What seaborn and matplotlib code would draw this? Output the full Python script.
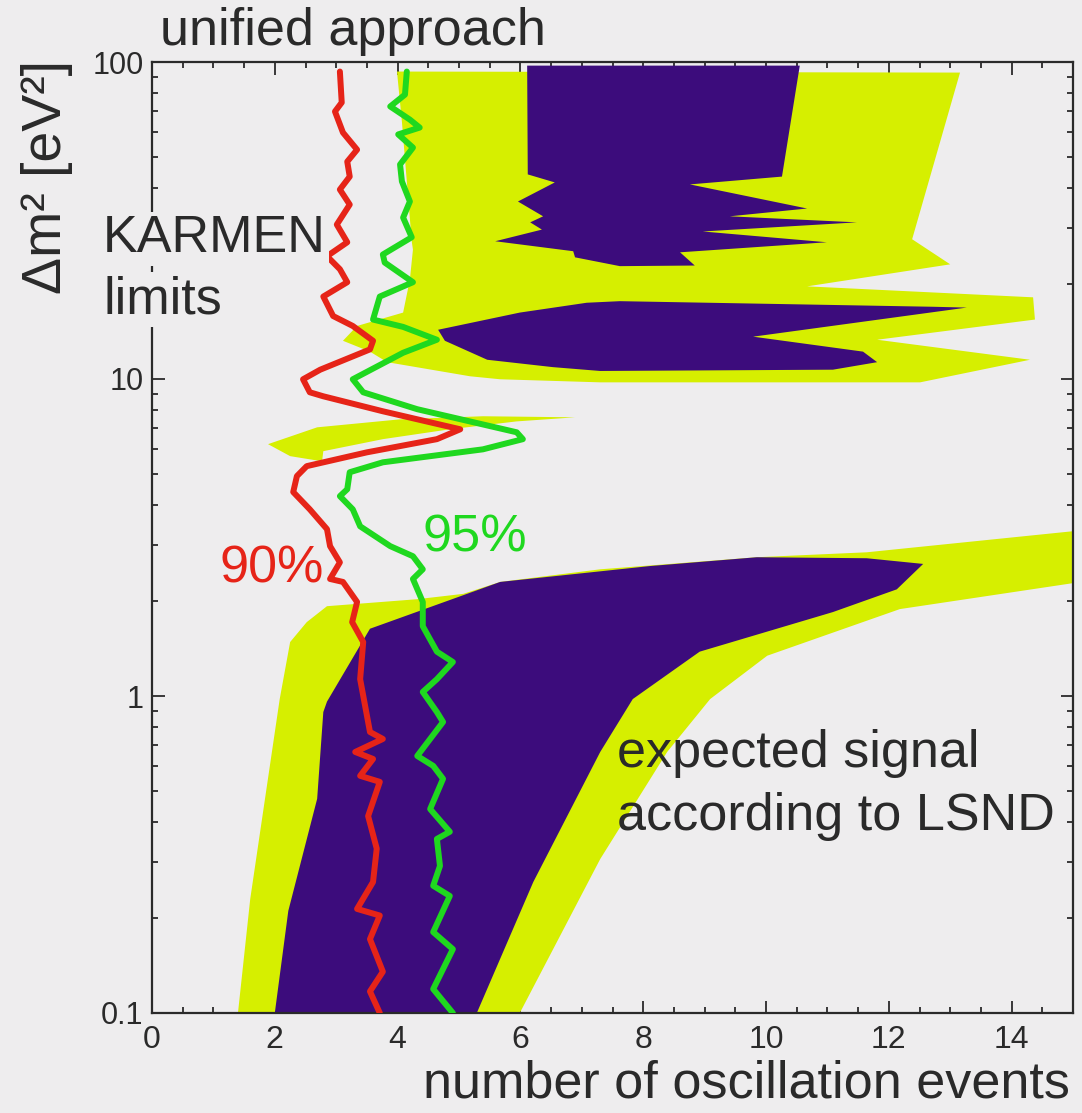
import matplotlib
matplotlib.use("Agg")
import matplotlib.pyplot as plt
from matplotlib.ticker import FixedLocator, FixedFormatter, MultipleLocator, LogLocator, NullFormatter
import seaborn as sns

# ---------------- data ----------------
x_ticks = [0, 2, 4, 6, 8, 10, 12, 14]
x_tick_labels = ["0", "2", "4", "6", "8", "10", "12", "14"]
y_ticks = [0.1, 1, 10, 100]
y_tick_labels = ["0.1", "1", "10", "100"]

# KARMEN 90% limit (red)
k90_events = [3.06, 3.09, 2.98, 3.11, 3.34, 3.18, 3.22, 3.06, 3.22, 3.01, 3.18, 2.85, 3.06, 3.18,
              2.79, 2.95, 3.27, 3.60, 3.55, 2.74, 2.46, 2.57, 2.79, 3.76, 5.02, 4.64, 3.50, 2.52,
              2.36, 2.30, 2.57, 2.85, 2.90, 3.06, 2.90, 3.11, 3.34, 3.26, 3.44, 3.39, 3.55, 3.76,
              3.31, 3.60, 3.39, 3.71, 3.52, 3.66, 3.60, 3.34, 3.71, 3.55, 3.76, 3.55, 3.71]
k90_dm2 = [93.3, 74.5, 69.8, 59.9, 52.9, 48.5, 43.5, 39.6, 35.5, 30.7, 27.0, 24.4, 22.2, 20.2,
           18.2, 15.8, 14.7, 13.2, 12.4, 10.7, 9.98, 9.08, 8.82, 7.91, 6.94, 6.46, 5.87, 5.31,
           4.94, 4.40, 3.88, 3.36, 2.97, 2.64, 2.34, 2.29, 1.98, 1.71, 1.48, 1.13, 0.770, 0.732,
           0.666, 0.633, 0.560, 0.536, 0.418, 0.330, 0.259, 0.213, 0.203, 0.171, 0.135, 0.117, 0.100]

# KARMEN 95% limit (green)
k95_events = [4.15, 4.12, 3.88, 4.20, 4.36, 4.01, 4.25, 4.04, 4.07, 4.20, 4.09, 4.23, 3.76, 3.79,
              4.25, 3.71, 3.60, 4.09, 4.64, 4.09, 3.27, 3.44, 4.32, 5.94, 6.04, 5.39, 3.76, 3.22,
              3.18, 3.06, 3.27, 3.39, 3.88, 4.25, 4.41, 4.25, 4.41, 4.41, 4.64, 4.90, 4.64, 4.41,
              4.64, 4.74, 4.32, 4.58, 4.74, 4.53, 4.85, 4.64, 4.69, 4.58, 4.85, 4.58, 4.90, 4.58, 4.90]
k95_dm2 = [93.3, 78.9, 72.4, 65.8, 62.1, 59.1, 53.7, 47.5, 42.0, 36.3, 32.3, 28.0, 24.7, 23.3,
           20.2, 18.2, 15.4, 14.6, 13.3, 12.1, 9.98, 9.08, 8.03, 6.79, 6.46, 6.00, 5.46, 5.08,
           4.49, 4.27, 3.88, 3.43, 2.97, 2.76, 2.51, 2.34, 1.98, 1.66, 1.38, 1.28, 1.13, 1.03,
           0.890, 0.828, 0.647, 0.602, 0.548, 0.440, 0.373, 0.354, 0.291, 0.252, 0.234, 0.180,
           0.159, 0.119, 0.100]

# LSND expected signal, outer band (yellow), low dm2
low_outer_events = [1.40, 1.60, 2.08, 2.25, 2.52, 2.85, 4.32, 5.07, 5.67, 7.30, 9.85, 11.64, 15.0,
                    15.0, 12.18, 10.02, 9.09, 8.39, 7.30, 5.99]
low_outer_dm2 = [0.1, 0.229, 0.978, 1.48, 1.71, 1.92, 2.02, 2.10, 2.29, 2.51, 2.74, 2.84, 3.31,
                 2.27, 1.88, 1.34, 0.978, 0.666, 0.306, 0.1]

# LSND inner band (purple), low dm2
low_inner_events = [2.00, 2.22, 2.69, 2.79, 2.85, 3.55, 5.67, 8.11, 9.85, 11.64, 12.56, 12.13,
                    11.09, 8.92, 7.83, 7.30, 6.21, 5.29]
low_inner_dm2 = [0.1, 0.21, 0.474, 0.89, 0.96, 1.63, 2.29, 2.57, 2.74, 2.72, 2.61, 2.17,
                 1.84, 1.38, 0.978, 0.666, 0.259, 0.1]

# LSND outer band (yellow), high dm2
high_outer_events = [3.99, 13.16, 12.38, 13.00, 10.67, 14.35, 14.38, 11.81, 14.30, 12.51, 7.30,
                     5.67, 5.18, 3.83, 3.55, 3.11, 3.34, 4.09, 4.20, 4.25, 4.23, 4.07]
high_outer_dm2 = [93.3, 92.6, 27.6, 23.0, 19.6, 18.1, 15.4, 13.3, 11.5, 9.76, 9.76,
                  9.98, 10.2, 11.3, 12.2, 13.2, 14.7, 16.2, 20.6, 25.6, 27.2, 64.9]

# small outer sliver around 6-7 eV^2
sliver_events = [1.89, 2.69, 4.04, 5.39, 6.89, 5.94, 4.85, 3.76, 2.79, 2.77, 2.25]
sliver_dm2 = [6.23, 7.04, 7.46, 7.63, 7.57, 7.35, 6.94, 6.46, 5.92, 5.50, 5.71]

# LSND inner band (purple), high dm2, upper block
high_inner_a_events = [6.11, 10.55, 10.26, 8.76, 10.67, 9.41, 11.48, 8.97, 10.99, 8.60, 8.84,
                       7.62, 6.89, 6.86, 5.59, 6.35, 6.16, 6.37, 5.96, 6.56, 6.12]
high_inner_a_dm2 = [97.4, 97.4, 43.5, 41.1, 34.5, 32.6, 31.2, 29.2, 27.0, 25.1, 22.8,
                    22.7, 24.2, 25.3, 27.2, 29.6, 31.2, 32.6, 36.3, 41.7, 44.2]

# LSND inner band (purple), high dm2, lower block
high_inner_b_events = [4.66, 5.99, 7.08, 7.62, 12.72, 13.27, 9.79, 11.58, 11.81, 11.09, 7.30,
                       6.53, 5.46, 4.77]
high_inner_b_dm2 = [14.3, 16.2, 17.4, 17.6, 16.9, 16.8, 13.6, 12.2, 11.3, 10.7, 10.6,
                    10.9, 11.5, 13.2]

# ---------------- style ----------------
BG = "#eeedee"
YELLOW = "#d6ef00"
PURPLE = "#3c0c7c"
RED = "#e62418"
GREEN = "#1fd81f"
INK = "#2a2a2a"
BIG = 37.5

sns.set_theme(style="ticks", rc={"axes.facecolor": BG, "figure.facecolor": BG})
plt.rcParams["font.family"] = ["Liberation Sans", "DejaVu Sans"]

fig = plt.figure(figsize=(10.82, 11.13), dpi=100)
ax = fig.add_axes([152 / 1082, 1 - 1013 / 1113, 921 / 1082, 951 / 1113])
ax.set_facecolor(BG)
ax.set_yscale("log")

# bands
ax.fill(low_outer_events, low_outer_dm2, color=YELLOW, lw=0, zorder=1)
ax.fill(high_outer_events, high_outer_dm2, color=YELLOW, lw=0, zorder=1)
ax.fill(sliver_events, sliver_dm2, color=YELLOW, lw=0, zorder=1)
ax.fill(low_inner_events, low_inner_dm2, color=PURPLE, lw=0, zorder=1.2)
ax.fill(high_inner_a_events, high_inner_a_dm2, color=PURPLE, lw=0, zorder=1.2)
ax.fill(high_inner_b_events, high_inner_b_dm2, color=PURPLE, lw=0, zorder=1.2)

# KARMEN limits
sns.lineplot(x=k90_events, y=k90_dm2, sort=False, estimator=None, color=RED, lw=4.3, ax=ax, zorder=3)
sns.lineplot(x=k95_events, y=k95_dm2, sort=False, estimator=None, color=GREEN, lw=4.3, ax=ax, zorder=3)

ax.set_xlim(0, 15)
ax.set_ylim(0.1, 100)

ax.xaxis.set_major_locator(FixedLocator(x_ticks))
ax.xaxis.set_major_formatter(FixedFormatter(x_tick_labels))
ax.xaxis.set_minor_locator(MultipleLocator(0.5))
ax.yaxis.set_major_locator(FixedLocator(y_ticks))
ax.yaxis.set_major_formatter(FixedFormatter(y_tick_labels))
ax.yaxis.set_minor_locator(LogLocator(base=10, subs=range(2, 10)))
ax.yaxis.set_minor_formatter(NullFormatter())

ax.tick_params(which="both", direction="in", top=True, right=True, colors=INK, width=1.3)
ax.tick_params(which="major", length=9)
ax.tick_params(which="minor", length=4.5)
ax.tick_params(axis="x", which="major", pad=9, labelsize=23)
ax.tick_params(axis="y", which="major", pad=6, labelsize=22)
for s in ax.spines.values():
    s.set_linewidth(1.6)
    s.set_color(INK)
ax.set_xlabel("")
ax.set_ylabel("")

# texts
fig.text(160 / 1082, 1 - 45 / 1113, "unified approach", fontsize=BIG, color=INK,
         ha="left", va="baseline")
fig.text(1070 / 1082, 1 - 1098 / 1113, "number of oscillation events", fontsize=BIG,
         color=INK, ha="right", va="baseline")
fig.text(47 / 1082, 1 - 60 / 1113, "Δm² [eV²]", fontsize=40, color=INK,
         rotation=90, ha="center", va="top")

box = dict(boxstyle="square,pad=0.05", facecolor=BG, edgecolor="none")
ax.text(-0.053, 0.800, "KARMEN", transform=ax.transAxes, fontsize=BIG, color=INK,
        ha="left", va="baseline", bbox=box, zorder=4)
ax.text(-0.053, 0.736, "limits", transform=ax.transAxes, fontsize=BIG, color=INK,
        ha="left", va="baseline", bbox=box, zorder=4)
ax.text(0.0738, 0.4532, "90%", transform=ax.transAxes, fontsize=BIG, color=RED,
        ha="left", va="baseline", zorder=4)
ax.text(0.2932, 0.4848, "95%", transform=ax.transAxes, fontsize=BIG, color=GREEN,
        ha="left", va="baseline", zorder=4)
ax.text(0.5049, 0.2587, "expected signal", transform=ax.transAxes, fontsize=BIG, color=INK,
        ha="left", va="baseline", zorder=4)
ax.text(0.5049, 0.1924, "according to LSND", transform=ax.transAxes, fontsize=BIG, color=INK,
        ha="left", va="baseline", zorder=4)

fig.savefig("out.png", dpi=100, facecolor=BG)
